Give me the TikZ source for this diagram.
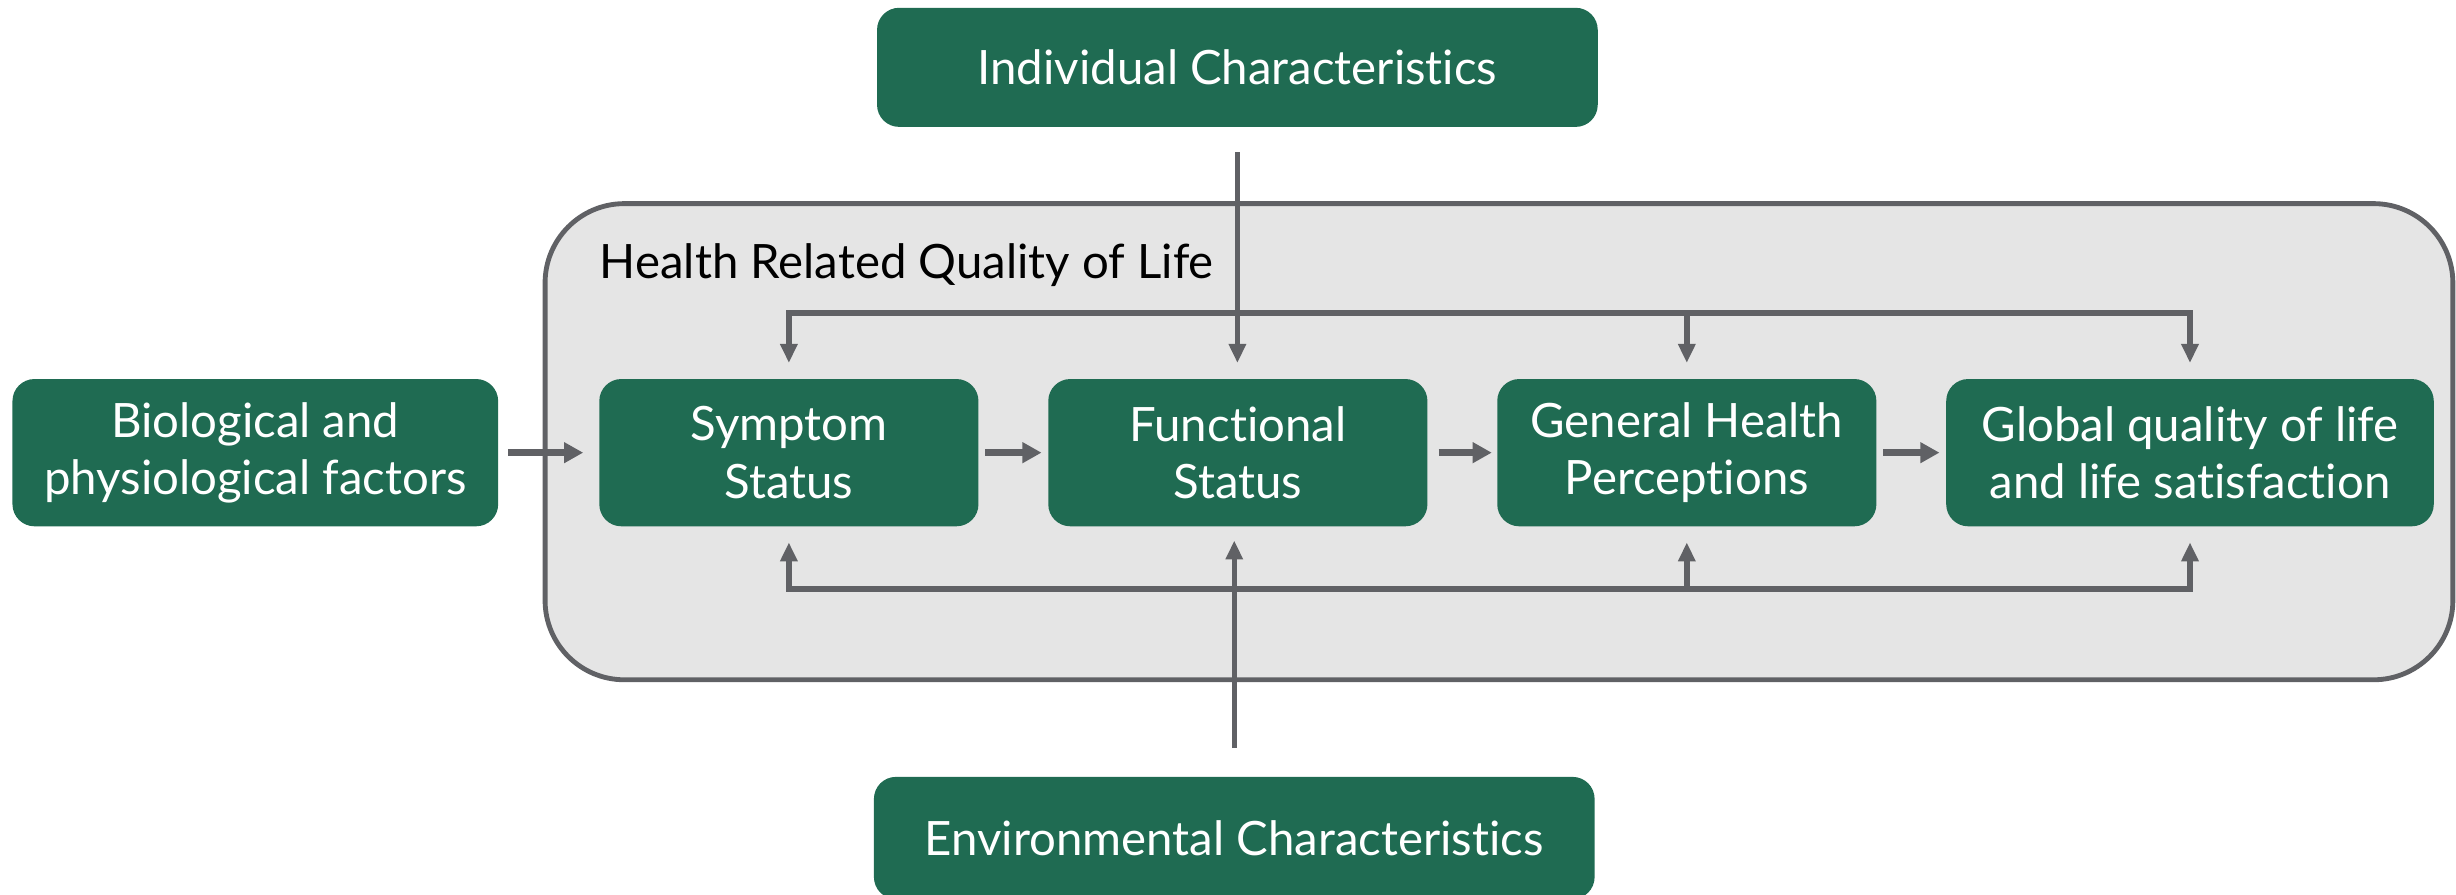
\documentclass[tikz,border=0pt]{standalone}
\usepackage{fontspec}
\setmainfont{Lato}[Ligatures=NoCommon]
\usetikzlibrary{arrows.meta,positioning}

\definecolor{hqgreen}{RGB}{31,107,82}
\definecolor{hqline}{RGB}{96,97,101}
\definecolor{hqfill}{RGB}{229,229,229}

\begin{document}
\begin{tikzpicture}[x=0.025cm,y=-0.025cm,node distance=1.1cm,
                    font=\fontsize{21.5}{26}\selectfont,
                    thin arrow/.style={-{Triangle[length=8.6pt,width=7.5pt]},color=hqline,line width=2.5pt},
                    flow arrow/.style={-{Triangle[length=8.7pt,width=9pt]},color=hqline,line width=3.2pt},
                    bus/.style={draw=hqline,line width=2.9pt,line cap=rect}]

  \tikzstyle{factor}=[rectangle,rounded corners=10pt,fill=hqgreen,text=white,align=center,
                      inner sep=2pt,minimum height=2.35cm]

  \useasboundingbox (0,0) rectangle (1568,571);

  % the health related quality of life frame
  \draw[draw=hqline,fill=hqfill,line width=2.2pt,rounded corners=36pt] (348,130) rectangle (1566,434);
  \node[anchor=west] (HRQL) at (378,169) {Health Related Quality of Life};

  \node[factor,minimum width=11.5cm,minimum height=1.9cm] (IC) at (790,43)  {Individual Characteristics};
  \node[factor,minimum width=11.5cm,minimum height=1.95cm] (EC) at (788,535) {Environmental Characteristics};

  \node[factor,minimum width=7.75cm] (BF)                   at (163,289) {Biological and\\physiological factors};
  \node[factor,minimum width=6.05cm] (SS) [right=1.6cm of BF] {Symptom\\Status};
  \node[factor,minimum width=6.05cm] (FS) [right=of SS]       {Functional\\Status};
  \node[factor,minimum width=6.05cm] (GH) [right=of FS]       {General Health\\Perceptions};
  \node[factor,minimum width=7.78cm] (GQ) [right=of GH]       {Global quality of life\\and life satisfaction};

  \coordinate (topbus) at (0,200);
  \coordinate (botbus) at (0,376);

  \draw[bus] (SS |- topbus) -- (GQ |- topbus);
  \draw[bus] (SS |- botbus) -- (GQ |- botbus);

  \path[thin arrow]
  (SS |- topbus) edge [shorten >=0.25cm] (SS.north)
  (GH |- topbus) edge [shorten >=0.25cm] (GH.north)
  (GQ |- topbus) edge [shorten >=0.25cm] (GQ.north)
  (SS |- botbus) edge [shorten >=0.25cm] (SS.south)
  (GH |- botbus) edge [shorten >=0.25cm] (GH.south)
  (GQ |- botbus) edge [shorten >=0.25cm] (GQ.south)
  ;

  \path[thin arrow,line width=2.1pt]
  (IC.south) edge [shorten <=0.4cm,shorten >=0.25cm]  (IC.south |- FS.north)
  (EC.north) edge [shorten <=0.45cm,shorten >=0.22cm] (EC.north |- FS.south)
  ;

  \path[flow arrow]
  (BF) edge [shorten <=0.15cm,shorten >=0.25cm] (SS)
  (SS) edge [shorten <=0.1cm,shorten >=0.1cm]   (FS)
  (FS) edge [shorten <=0.17cm,shorten >=0.08cm] (GH)
  (GH) edge [shorten <=0.1cm,shorten >=0.1cm]   (GQ)
  ;
\end{tikzpicture}
\end{document}
